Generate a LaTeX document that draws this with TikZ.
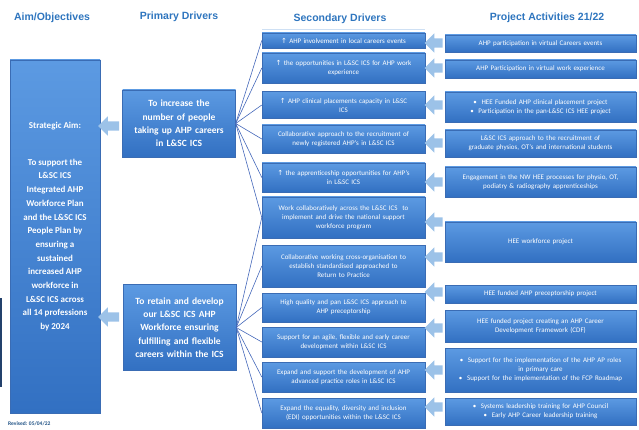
\documentclass[tikz,border=0pt]{standalone}
\usepackage{fontspec}
\setmainfont{Carlito}
\newfontfamily\headfont{Liberation Sans}
\newfontfamily\symfont{DejaVu Sans}
\usetikzlibrary{shapes.arrows}

\definecolor{boxtop}{RGB}{92,154,226}
\definecolor{boxbot}{RGB}{50,112,194}
\definecolor{boxedge}{RGB}{58,108,180}
\definecolor{headblue}{RGB}{46,117,190}
\definecolor{arrowblue}{RGB}{156,194,232}
\definecolor{fanblue}{RGB}{68,104,186}

\newcommand{\up}{{\symfont\char"2191}}

\tikzset{
  drvbox/.style={rectangle, top color=boxtop, bottom color=boxbot, draw=boxedge,
    line width=0.4pt, text=white, align=center, inner sep=0pt},
  heading/.style={text=headblue, font=\headfont\bfseries\fontsize{10.5}{12}\selectfont},
  aimbox/.style={drvbox, minimum width=90pt, minimum height=353pt},
  primbox/.style={drvbox, minimum width=113pt, text width=110pt,
    font=\bfseries\fontsize{9.5}{13.3}\selectfont},
  secbox/.style={drvbox, minimum width=163pt, text width=158pt,
    font=\fontsize{7}{9}\selectfont},
  actbox/.style={drvbox, minimum width=191pt, text width=186pt,
    font=\fontsize{7}{9}\selectfont},
  backarrow/.style={single arrow, shape border rotate=180, fill=arrowblue,
    inner sep=4.5pt, single arrow head extend=5pt, minimum height=18pt},
  fan/.style={fanblue, line width=0.6pt}
}

\begin{document}
\begin{tikzpicture}[x=1pt, y=-1pt]
    \useasboundingbox (0,0) rectangle (639,430);

    % Headings
    \node[heading] (hAim) at (52,18) {Aim/Objectives};
    \node[heading] (hPrim) at (179,17) {Primary Drivers};
    \node[heading] (hSec) at (340,19) {Secondary Drivers};
    \node[heading] (hAct) at (547,18) {Project Activities 21/22};
    \draw[arrowblue!50, line width=0.5pt] (262,29) -- (425,29);

    % Strategic aim
    \node[aimbox] (aim) at (55,236.5) {};
    \node[anchor=north, text=white, align=center, inner sep=0pt,
      font=\bfseries\fontsize{9}{13.7}\selectfont] (aimtext) at (55,122)
      {Strategic Aim:\\[23pt]
       To support the\\ L\&SC ICS\\ Integrated AHP\\ Workforce Plan\\
       and the L\&SC ICS\\ People Plan by\\ ensuring a\\ sustained\\
       increased AHP\\ workforce in\\ L\&SC ICS across\\ all 14 professions\\ by 2024};
    \draw[boxedge!60!black, line width=1.5pt] (1,298) -- (1,387);
    \node[anchor=west, text=headblue!70!black, inner sep=0pt,
      font=\bfseries\fontsize{5.5}{6}\selectfont] (rev) at (8,424) {Revised: 05/04/22};

    % Primary drivers
    \node[primbox, minimum height=67pt] (p1) at (179,123.5)
      {To increase the\\ number of people\\ taking up AHP careers\\ in L\&SC ICS};
    \node[primbox, minimum height=86pt] (p2) at (179.5,327.5)
      {To retain and develop\\ our L\&SC ICS AHP\\ Workforce ensuring\\ fulfilling and flexible\\ careers within the ICS};

    % Secondary drivers
    \node[secbox, minimum height=15pt] (s1) at (343.5,40.5) {\up\ AHP involvement in local careers events};
    \node[secbox, minimum height=30pt] (s2) at (343.5,68) {\up\ the opportunities in L\&SC ICS for AHP work\\ experience};
    \node[secbox, minimum height=27pt] (s3) at (343.5,105) {\up\ AHP clinical placements capacity in L\&SC\\ ICS};
    \node[secbox, minimum height=28pt] (s4) at (343.5,139) {Collaborative approach to the recruitment of\\ newly registered AHP's in L\&SC ICS};
    \node[secbox, minimum height=29pt] (s5) at (343.5,177.5) {\up\ the apprenticeship opportunities for AHP's\\ in L\&SC ICS};
    \node[secbox, minimum height=41pt] (s6) at (343.5,217.5) {Work collaboratively across the L\&SC ICS\ \ to\\ implement and drive the national support\\ workforce program};
    \node[secbox, minimum height=42pt] (s7) at (343.5,266) {Collaborative working cross-organisation to\\ establish standardised approached to\\ Return to Practice};
    \node[secbox, minimum height=29pt] (s8) at (343.5,307.5) {High quality and pan L\&SC ICS approach to\\ AHP preceptorship};
    \node[secbox, minimum height=30pt] (s9) at (343.5,342) {Support for an agile, flexible and early career\\ development within L\&SC ICS};
    \node[secbox, minimum height=30pt] (s10) at (343.5,377) {Expand and support the development of AHP\\ advanced practice roles in L\&SC ICS};
    \node[secbox, minimum height=30pt] (s11) at (343.5,413) {Expand the equality, diversity and inclusion\\ (EDI) opportunities within the L\&SC ICS};

    % Project activities
    \node[actbox, minimum height=17pt] (a1) at (540.5,43.5) {AHP participation in virtual Careers events};
    \node[actbox, minimum height=18pt] (a2) at (540.5,69) {AHP Participation in virtual work experience};
    \node[actbox, minimum height=30pt] (a3) at (540.5,107) {\textbullet\ \ HEE Funded AHP clinical placement project\\ \textbullet\ \ Participation in the pan-L\&SC ICS HEE project};
    \node[actbox, minimum height=27pt] (a4) at (540.5,143.5) {L\&SC ICS approach to the recruitment of\\ graduate physios, OT's and international students};
    \node[actbox, minimum height=30pt] (a5) at (540.5,182) {Engagement in the NW HEE processes for physio, OT,\\ podiatry \& radiography apprenticeships};
    \node[actbox, minimum height=40pt] (a6) at (540.5,242) {HEE workforce project};
    \node[actbox, minimum height=18pt] (a7) at (540.5,294) {HEE funded AHP preceptorship project};
    \node[actbox, minimum height=32pt] (a8) at (540.5,326) {HEE funded project creating an AHP Career\\ Development Framework (CDF)};
    \node[actbox, minimum height=44pt] (a9) at (540.5,370) {\textbullet\ \ Support for the implementation of the AHP AP roles\\ in primary care\\ \textbullet\ \ Support for the implementation of the FCP Roadmap};
    \node[actbox, minimum height=27pt] (a10) at (540.5,411.5) {\textbullet\ \ Systems leadership training for AHP Council\\ \textbullet\ \ Early AHP Career leadership training};

    % Fan lines primary -> secondary
    \foreach \s in {1,...,6}
        \draw[fan] (p1.east) -- (s\s.west);
    \foreach \s in {6,...,11}
        \draw[fan] (p2.east) -- (s\s.west);

    % Block arrows
    \node[backarrow, minimum height=21pt] (am1) at (111,126) {};
    \node[backarrow, minimum height=21pt] (am2) at (111,317) {};
    \foreach \y [count=\i] in {43,68,105,143,182,222,257,292,328,370,407}
        \node[backarrow] (ar\i) at (436,\y) {};
\end{tikzpicture}
\end{document}
